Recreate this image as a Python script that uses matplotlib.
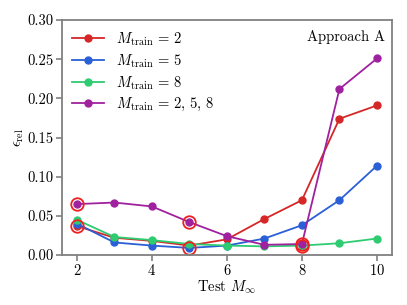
import numpy as np
import matplotlib.pyplot as plt

plt.rcParams['font.family'] = 'serif'
plt.rcParams['font.serif'] = ['cmr10']
plt.rcParams['mathtext.fontset'] = 'cm'
plt.rcParams['axes.formatter.use_mathtext'] = True

mach = [2, 3, 4, 5, 6, 7, 8, 9, 10]
err_m2 = [0.037, 0.022, 0.018, 0.012, 0.020, 0.046, 0.070, 0.174, 0.191]
err_m5 = [0.040, 0.016, 0.012, 0.009, 0.012, 0.021, 0.038, 0.070, 0.114]
err_m8 = [0.045, 0.023, 0.019, 0.014, 0.012, 0.011, 0.012, 0.015, 0.021]
err_m258 = [0.065, 0.067, 0.062, 0.042, 0.024, 0.013, 0.014, 0.212, 0.251]

series = [
    (err_m2, [2], '#d62728', r'$M_{\mathrm{train}}\,=\,2$'),
    (err_m5, [5], '#2a5fd6', r'$M_{\mathrm{train}}\,=\,5$'),
    (err_m8, [8], '#2ecc71', r'$M_{\mathrm{train}}\,=\,8$'),
    (err_m258, [2, 5, 8], '#a0219e', r'$M_{\mathrm{train}}\,=\,2,\,5,\,8$'),
]

fig = plt.figure(figsize=(4.07, 3.05), dpi=100)
ax = fig.add_axes([0.152, 0.164, 0.811, 0.770])

for err, train, color, label in series:
    ax.plot(mach, err, '-o', color=color, lw=1.3, ms=5, label=label)
for err, train, color, label in series:
    for t in train:
        ax.plot(t, err[mach.index(t)], 'o', ms=9, mfc='none', mec='#ee2020', mew=1.3)

ax.set_xlim(1.6, 10.4)
ax.set_ylim(0, 0.30)
ax.set_xticks([2, 4, 6, 8, 10])
ax.set_yticks([0, 0.05, 0.10, 0.15, 0.20, 0.25, 0.30])
ax.set_yticklabels(['0.00', '0.05', '0.10', '0.15', '0.20', '0.25', '0.30'])
ax.set_xlabel(r'Test $M_\infty$', fontsize=10.5, labelpad=0)
ax.set_ylabel(r'$\epsilon_{\mathrm{rel}}$', fontsize=10.5, labelpad=1)
ax.tick_params(labelsize=10.5, color='#808080', width=1.2, length=4, pad=2)
for s in ax.spines.values():
    s.set_color('#808080')
    s.set_linewidth(1.3)
ax.text(0.98, 0.96, 'Approach A', transform=ax.transAxes, ha='right', va='top', fontsize=10.5)
ax.legend(loc='upper left', frameon=False, fontsize=10.5, handlelength=2.2,
          labelspacing=0.3, borderaxespad=0.3)

fig.savefig('out.png', dpi=100)
